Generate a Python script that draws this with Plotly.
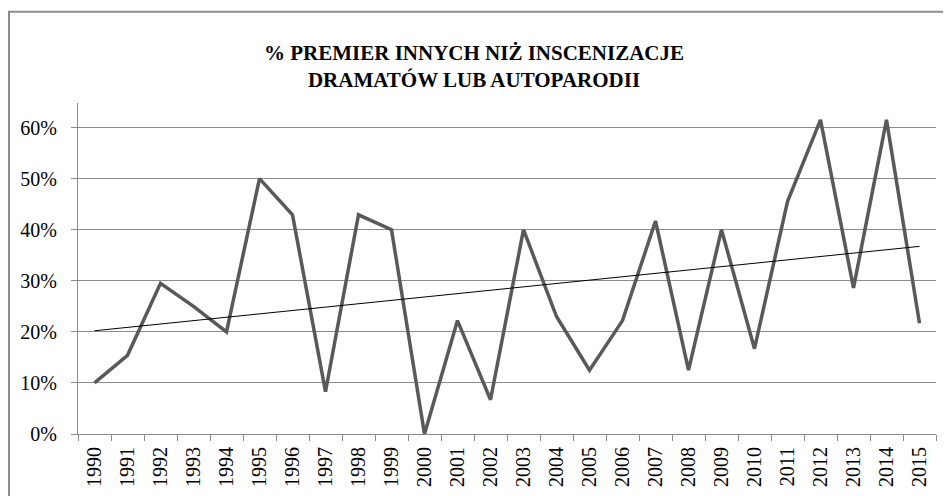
import numpy as np
import plotly.graph_objects as go

years = [str(y) for y in range(1990, 2016)]
values = [0.100, 0.154, 0.295, 0.250, 0.200, 0.500, 0.429, 0.083, 0.429, 0.400,
          0.000, 0.222, 0.067, 0.400, 0.230, 0.125, 0.222, 0.417, 0.125, 0.400,
          0.167, 0.455, 0.615, 0.286, 0.615, 0.217]
y_ticks = [0, 0.1, 0.2, 0.3, 0.4, 0.5, 0.6]
title_text = "% PREMIER INNYCH NIŻ INSCENIZACJE<br>DRAMATÓW LUB AUTOPARODII"

idx = np.arange(len(values))
slope, intercept = np.polyfit(idx, np.array(values), 1)
trend = slope * idx + intercept

# page body has an 8px margin; figure is sized to fill the rest of the window
OFF = 8
W, H = 951 - OFF, 496 - OFF
L, R, T, B = 78 - OFF, 15, 103 - OFF, 62
pw, ph = W - L - R, H - T - B

fig = go.Figure()
fig.add_trace(go.Scatter(x=years, y=values, mode="lines",
                         line=dict(color="#595959", width=3.5), showlegend=False))
fig.add_trace(go.Scatter(x=years, y=trend, mode="lines",
                         line=dict(color="#000000", width=1), showlegend=False))

grid = "#8c8c8c"
serif = "Times New Roman, Liberation Serif, serif"
fig.update_layout(
    width=W, height=H,
    margin=dict(l=L, r=R, t=T, b=B, autoexpand=False),
    paper_bgcolor="white", plot_bgcolor="white",
    font=dict(family=serif, color="#000000"),
    title=dict(text="<b>" + title_text + "</b>", x=(474 - OFF) / W, xref="container", xanchor="center",
               y=1 - 52 / H, yref="container", yanchor="middle",
               font=dict(family=serif, size=21, color="#000000")),
    xaxis=dict(type="category", range=[-0.5, len(years) - 0.5], tickson="boundaries",
               ticks="outside", ticklen=6, tickcolor=grid, tickwidth=1,
               showline=True, linecolor=grid, linewidth=1, showgrid=False,
               tickangle=-90, tickfont=dict(family=serif, size=20, color="#000000"),
               ticklabelstandoff=4, automargin=False),
    yaxis=dict(range=[0, 0.648], tickvals=y_ticks, tickformat=".0%",
               ticks="outside", ticklen=6, tickcolor=grid, tickwidth=1,
               showline=True, linecolor=grid, linewidth=1,
               showgrid=True, gridcolor=grid, gridwidth=1, zeroline=False,
               tickfont=dict(family=serif, size=20, color="#000000"),
               ticklabelstandoff=10, automargin=False),
    shapes=[dict(type="rect", xref="paper", yref="paper",
                 x0=(1 - L) / pw, x1=1.2, y0=-0.5, y1=(H - B - (11.7 - OFF)) / ph,
                 line=dict(color="#8c8c8c", width=2), layer="below")],
)
fig.write_html("out.html")
